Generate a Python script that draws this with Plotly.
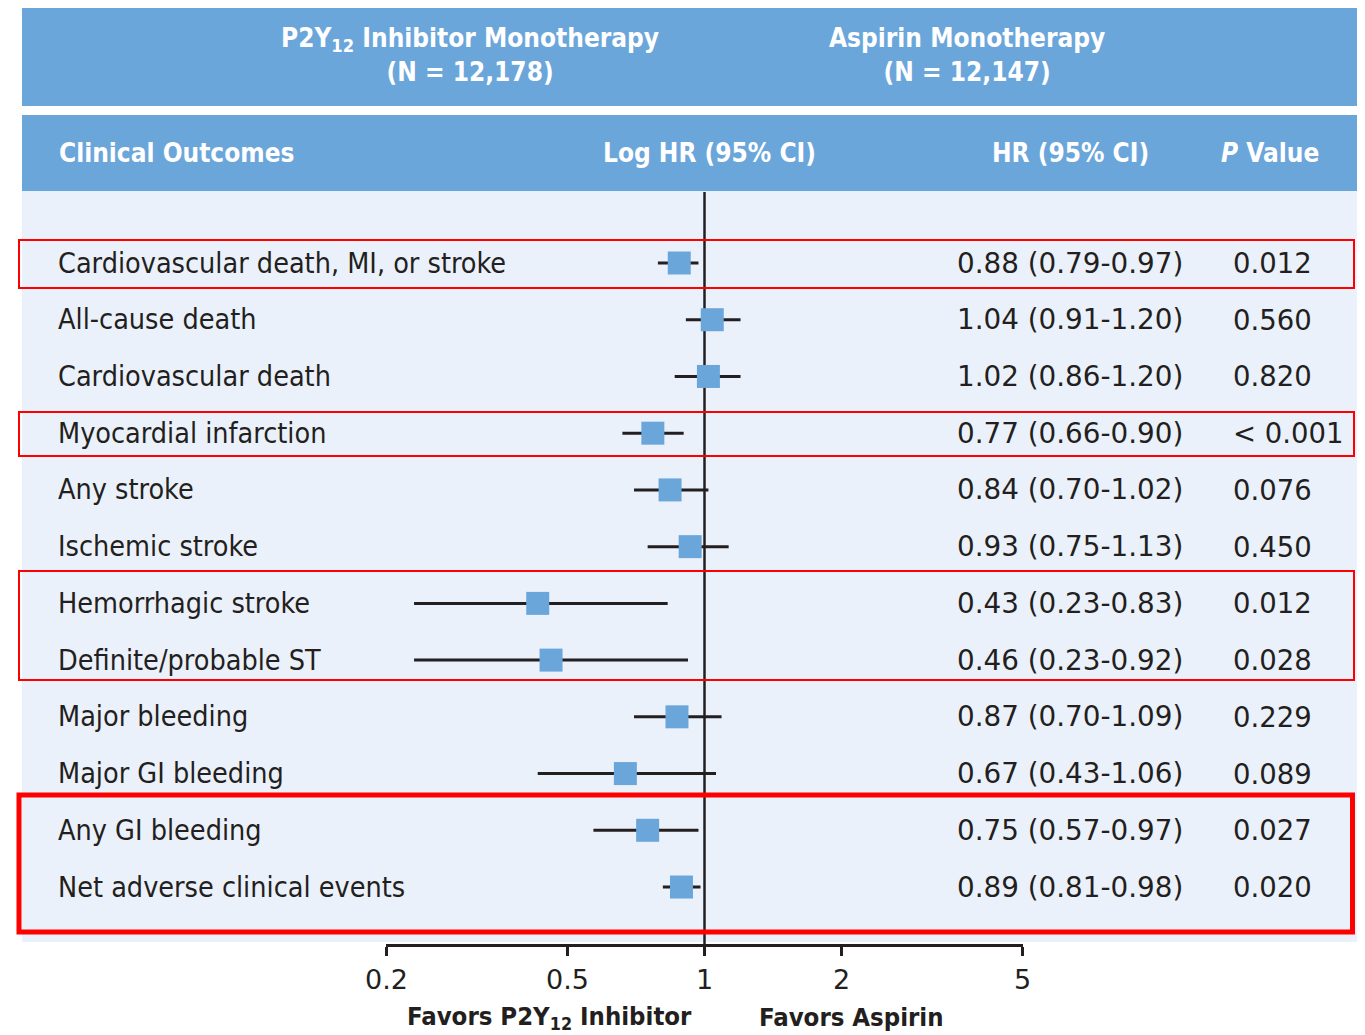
import math
import plotly.graph_objects as go

# ── Theme ─────────────────────────────────────────────────────────────────────
W, H      = 1365, 1035
OX, OY    = 8, 8            # page body margin the figure sits behind
HEAD_BLUE = "#6BA6DB"
BODY_BG   = "#EBF1FA"
RED       = "#FF0000"
INK       = "#231F20"
LABEL_FONT = "DejaVu Sans Condensed, DejaVu Sans, sans-serif"
NUM_FONT   = "DejaVu Sans, sans-serif"

# ── Data ──────────────────────────────────────────────────────────────────────
outcomes = [
    "Cardiovascular death, MI, or stroke",
    "All-cause death",
    "Cardiovascular death",
    "Myocardial infarction",
    "Any stroke",
    "Ischemic stroke",
    "Hemorrhagic stroke",
    "Definite/probable ST",
    "Major bleeding",
    "Major GI bleeding",
    "Any GI bleeding",
    "Net adverse clinical events",
]
hr    = [0.88, 1.04, 1.02, 0.77, 0.84, 0.93, 0.43, 0.46, 0.87, 0.67, 0.75, 0.89]
ci_lo = [0.79, 0.91, 0.86, 0.66, 0.70, 0.75, 0.23, 0.23, 0.70, 0.43, 0.57, 0.81]
ci_hi = [0.97, 1.20, 1.20, 0.90, 1.02, 1.13, 0.83, 0.92, 1.09, 1.06, 0.97, 0.98]
p_values = ["0.012", "0.560", "0.820", "< 0.001", "0.076", "0.450",
            "0.012", "0.028", "0.229", "0.089", "0.027", "0.020"]
tick_vals = [0.2, 0.5, 1, 2, 5]
tick_text = ["0.2", "0.5", "1", "2", "5"]

# ── Layout geometry (page pixels) ─────────────────────────────────────────────
ROW0, ROW_STEP = 263, 56.73
AXIS_Y   = 944
BODY_TOP = 192
RIGHT    = 1355             # last visible column of the page, keep frames inside
# highlighted frames: top, bottom, line width
frames = [(240, 288, 2), (412, 456, 2), (571, 680, 2), (795, 932, 5)]


def fx(px):
    return (px - OX) / W


def fy(px):
    return 1 - (px - OY) / H


rows = list(range(len(outcomes)))
# row index -> page pixel: ROW0 + i * ROW_STEP ; y axis spans page px OY..AXIS_Y
y_range = [(AXIS_Y - ROW0) / ROW_STEP, (OY - ROW0) / ROW_STEP]

fig = go.Figure()
fig.add_trace(go.Scatter(
    x=hr, y=rows,
    mode="markers",
    marker=dict(symbol="square", size=23, color=HEAD_BLUE, line=dict(width=0)),
    error_x=dict(type="data", symmetric=False,
                 array=[h - c for h, c in zip(ci_hi, hr)],
                 arrayminus=[h - c for h, c in zip(hr, ci_lo)],
                 thickness=3, width=0, color=INK),
    cliponaxis=False, hoverinfo="skip", showlegend=False,
))

shapes = [
    # header bands and body
    dict(type="rect", xref="paper", yref="paper", x0=fx(22), x1=fx(RIGHT + 2),
         y0=fy(106), y1=fy(6), fillcolor=HEAD_BLUE, line_width=0, layer="below"),
    dict(type="rect", xref="paper", yref="paper", x0=fx(22), x1=fx(RIGHT + 2),
         y0=fy(191), y1=fy(115), fillcolor=HEAD_BLUE, line_width=0, layer="below"),
    dict(type="rect", xref="paper", yref="paper", x0=fx(22), x1=fx(RIGHT + 2),
         y0=fy(AXIS_Y - 2), y1=fy(191), fillcolor=BODY_BG, line_width=0, layer="below"),
    # no-effect line
    dict(type="line", xref="x", yref="paper", x0=1, x1=1,
         y0=fy(AXIS_Y), y1=fy(BODY_TOP), line=dict(color=INK, width=2.5), layer="below"),
]
for top, bottom, lw in frames:
    shapes.append(dict(type="rect", xref="paper", yref="paper",
                       x0=fx(19), x1=fx(RIGHT - lw / 2), y0=fy(bottom), y1=fy(top),
                       line=dict(color=RED, width=lw), fillcolor="rgba(0,0,0,0)"))

head_font = dict(family=LABEL_FONT, size=26, color="white", weight="bold")
foot_font = dict(family=LABEL_FONT, size=25.5, color=INK, weight="bold")
annotations = [
    dict(text="P2Y<sub>12</sub> Inhibitor Monotherapy<br>(N = 12,178)",
         x=fx(470), y=fy(55), font=head_font),
    dict(text="Aspirin Monotherapy<br>(N = 12,147)", x=fx(967), y=fy(55), font=head_font),
    dict(text="Clinical Outcomes", x=fx(57), y=fy(153), xanchor="left", font=head_font),
    dict(text="Log HR (95% CI)", x=fx(710), y=fy(153), font=head_font),
    dict(text="HR (95% CI)", x=fx(1070), y=fy(153), font=head_font),
    dict(text="<i>P</i> Value", x=fx(1270), y=fy(153), font=head_font),
    dict(text="Favors P2Y<sub>12</sub> Inhibitor", x=fx(549), y=fy(1017), font=foot_font),
    dict(text="Favors Aspirin", x=fx(851), y=fy(1017), font=foot_font),
]
for i, name in enumerate(outcomes):
    annotations.append(dict(text=name, x=fx(56), y=i, yref="y", xanchor="left",
                            font=dict(family=LABEL_FONT, size=28.5, color=INK)))
    annotations.append(dict(text=f"{hr[i]:.2f} ({ci_lo[i]:.2f}-{ci_hi[i]:.2f})",
                            x=fx(955), y=i, yref="y", xanchor="left",
                            font=dict(family=NUM_FONT, size=27.8, color=INK)))
    annotations.append(dict(text=p_values[i], x=fx(1231), y=i, yref="y", xanchor="left",
                            font=dict(family=NUM_FONT, size=27.5, color=INK)))
for a in annotations:
    a.setdefault("xref", "paper")
    a.setdefault("yref", "paper")
    a.setdefault("xanchor", "center")
    a.setdefault("yanchor", "middle")
    a["showarrow"] = False

fig.update_layout(
    width=W, height=H,
    margin=dict(l=0, r=0, t=0, b=0, autoexpand=False),
    paper_bgcolor="white",
    plot_bgcolor="rgba(0,0,0,0)",
    showlegend=False,
    xaxis=dict(type="log", domain=[fx(386), fx(1023)],
               range=[math.log10(0.2) - 0.001, math.log10(5) + 0.001],
               showline=True, linecolor=INK, linewidth=2.5,
               ticks="outside", ticklen=9, tickwidth=2.5, tickcolor=INK,
               tickvals=tick_vals, ticktext=tick_text,
               tickfont=dict(family=NUM_FONT, size=27, color=INK),
               ticklabelstandoff=1, automargin=False,
               showgrid=False, zeroline=False, fixedrange=True),
    yaxis=dict(domain=[fy(AXIS_Y), 1], range=y_range, visible=False,
               showgrid=False, zeroline=False, fixedrange=True),
    shapes=shapes,
    annotations=annotations,
)

fig.write_html("out.html")
